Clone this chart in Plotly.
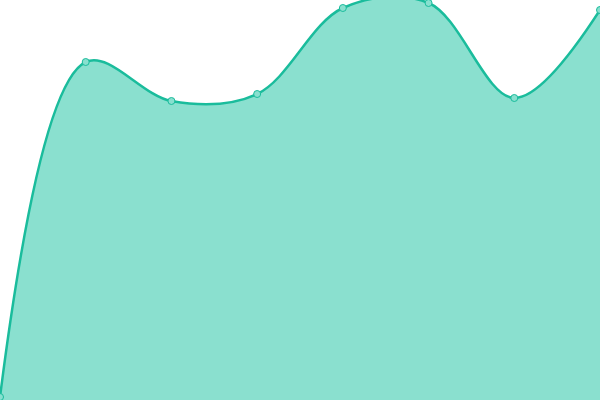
import plotly.graph_objects as go

x_vals = [0, 1, 2, 3, 4, 5, 6, 7]
y_vals = [3, 338, 299, 306, 392, 397, 302, 390]

fig = go.Figure()
fig.add_trace(go.Scatter(
    x=x_vals, y=y_vals,
    mode="lines+markers",
    line=dict(color="#1abc9c", width=2.5, shape="spline", smoothing=1),
    marker=dict(size=7, color="#88e0cf", line=dict(color="#1abc9c", width=1)),
    fill="tozeroy",
    fillcolor="#8ae0cf",
    hoverinfo="skip",
))
fig.update_layout(
    width=600, height=400,
    margin=dict(l=0, r=0, t=0, b=0),
    paper_bgcolor="white", plot_bgcolor="white",
    showlegend=False,
    xaxis=dict(range=[0, 7], visible=False, fixedrange=True),
    yaxis=dict(range=[0, 400], visible=False, fixedrange=True),
)
fig.write_html(
    "out.html",
    config={"displayModeBar": False},
    post_script="document.body.style.margin='0';document.body.style.padding='0';document.body.style.overflow='hidden';document.documentElement.style.overflow='hidden';",
)
